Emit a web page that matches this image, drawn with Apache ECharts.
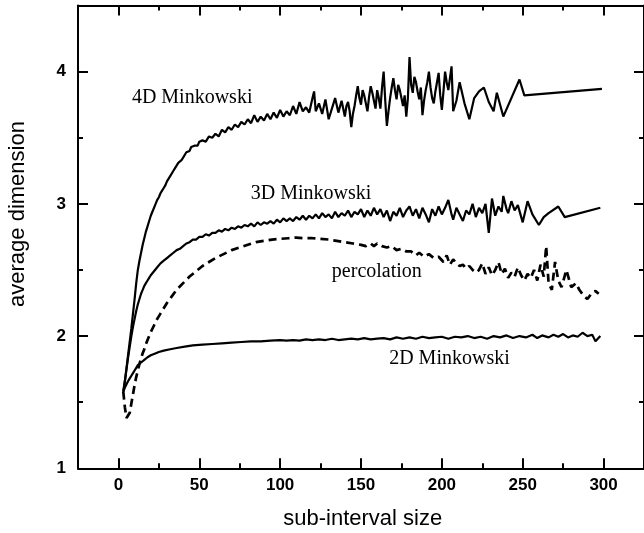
<!DOCTYPE html>
<html>
<head>
<meta charset="utf-8">
<script src="https://cdn.jsdelivr.net/npm/echarts@6/dist/echarts.min.js"></script>
<style>
  html, body { margin: 0; padding: 0; background: #fff; }
  #chart { width: 644px; height: 533px; }
</style>
</head>
<body>
<div id="chart"></div>
<script>
// Tick positions
const xMajorTicks = [0, 50, 100, 150, 200, 250, 300];
const xMinorTicks = [25, 75, 125, 175, 225, 275];
const yMajorTicks = [1, 2, 3, 4];
const yMinorTicks = [1.5, 2.5, 3.5];

// 4D Minkowski
const x4D = [3,4,5,6,7,8,9,10,11,12,13,14,15,16,17,18,19,20,21,22,23,24,25,26,27,28,29,30,
  31,32,33,34,35,36,37,38,39,40,41,42,43,44,45,46,47,48,49,50,
  52,54,56,58,60,62,64,66,68,70,72,74,76,78,80,82,84,86,88,90,92,94,96,98,100,
  102,104,106,108,110,112,114,116,118,120,121,122,124,126,128,130,132,134,136,138,
  140,141,142,143,144,145,146,147,148,149,150,151,152,153,154,155,156,157,158,159,
  160,161,162,163,164,165,166,167,168,169,170,171,172,173,174,175,176,177,178,179,
  180,181,182,183,184,185,186,187,188,189,190,191,192,193,194,195,196,197,198,199,
  200,201,202,203,204,205,206,207,208,209,210,211,
  214,217,220,223,226,229,232,234,238,248,251,299];
const y4D = [1.58,1.66,1.76,1.86,1.96,2.06,2.17,2.28,2.40,2.50,2.57,2.63,2.69,2.74,2.79,2.83,2.87,2.91,2.94,2.97,3.00,3.03,3.05,3.08,3.10,3.12,3.14,3.17,
  3.18,3.21,3.22,3.25,3.27,3.28,3.31,3.30,3.33,3.35,3.36,3.39,3.40,3.40,3.43,3.42,3.44,3.45,3.44,3.47,
  3.48,3.47,3.51,3.50,3.53,3.51,3.56,3.54,3.58,3.56,3.60,3.58,3.62,3.60,3.64,3.61,3.67,3.62,3.66,3.63,3.68,3.64,3.69,3.65,3.71,
  3.66,3.70,3.67,3.74,3.68,3.77,3.70,3.73,3.69,3.80,3.85,3.70,3.76,3.68,3.79,3.64,3.72,3.80,3.69,3.78,
  3.66,3.74,3.77,3.70,3.58,3.68,3.74,3.82,3.89,3.80,3.75,3.86,3.82,3.76,3.70,3.81,3.89,3.84,3.78,3.72,
  3.86,3.80,3.72,3.88,4.00,3.78,3.59,3.70,3.80,3.88,3.95,3.86,3.79,3.90,3.86,3.80,3.74,3.82,3.66,3.80,
  4.11,3.90,3.84,3.96,3.92,3.85,3.79,3.88,3.67,3.78,3.86,3.92,4.00,3.88,3.80,3.76,3.85,3.92,3.99,3.82,
  3.71,3.85,4.00,3.92,3.86,3.95,4.04,3.70,3.74,3.78,3.85,3.92,
  3.76,3.64,3.80,3.85,3.88,3.77,3.70,3.84,3.66,3.94,3.82,3.87];

// 3D Minkowski
const x3D = [3,4,5,6,7,8,9,10,11,12,13,14,15,16,17,18,19,20,21,22,23,24,25,26,27,28,29,30,
  32,34,36,38,40,42,44,46,48,50,52,54,56,58,60,62,64,66,68,70,72,74,76,78,80,82,84,86,88,90,
  92,94,96,98,100,102,104,106,108,110,112,114,116,118,120,122,124,126,128,130,132,134,136,138,140,
  142,144,146,148,150,152,154,156,158,160,162,164,166,168,170,172,174,176,178,180,182,184,186,188,190,
  192,194,196,198,200,202,204,206,207,209,211,213,215,217,219,221,223,225,227,229,231,233,235,237,238,
  240,241,243,245,247,250,253,256,260,263,266,272,276,298];
const y3D = [1.58,1.66,1.75,1.84,1.92,2.00,2.07,2.13,2.19,2.24,2.28,2.32,2.35,2.38,2.40,2.42,2.44,2.46,2.47,2.49,2.50,2.52,2.53,2.55,2.56,2.57,2.58,2.59,
  2.61,2.63,2.65,2.66,2.68,2.70,2.71,2.73,2.73,2.75,2.75,2.77,2.76,2.78,2.78,2.80,2.79,2.81,2.80,2.82,2.81,2.83,2.82,2.84,2.83,2.85,2.83,2.86,2.84,2.86,
  2.85,2.87,2.85,2.88,2.86,2.89,2.87,2.89,2.87,2.90,2.88,2.91,2.88,2.91,2.89,2.92,2.89,2.93,2.90,2.92,2.89,2.94,2.90,2.93,2.91,
  2.95,2.90,2.94,2.92,2.96,2.90,2.95,2.91,2.97,2.92,2.96,2.90,2.95,2.87,2.94,2.91,2.97,2.90,2.95,2.98,2.91,2.96,2.89,2.97,2.92,
  2.86,2.96,2.91,2.98,2.92,2.97,3.03,2.92,2.88,2.97,2.92,2.87,2.95,2.92,3.00,2.90,2.97,2.93,3.00,2.78,3.04,2.91,2.98,2.94,3.06,
  2.96,2.93,3.02,2.95,2.99,2.86,3.02,2.92,2.84,2.90,2.93,2.98,2.90,2.97];

// Percolation
const xPerc = [3,4,5,6,7,8,9,10,11,12,13,14,15,16,17,18,19,20,22,24,26,28,30,33,36,40,44,48,52,56,60,65,70,75,80,85,90,95,100,
  105,110,115,120,125,130,135,140,145,150,153,156,158,160,163,166,169,172,175,178,181,184,186,189,192,195,198,
  201,203,205,207,209,211,213,215,217,219,221,223,225,227,229,231,233,235,237,239,241,243,245,247,249,251,253,255,
  257,259,261,263,264.5,266,268,270,272,274,277,280,283,285,288,290,293,295,297];
const yPerc = [1.58,1.46,1.38,1.37,1.42,1.49,1.56,1.63,1.69,1.74,1.79,1.83,1.87,1.90,1.94,1.97,2.00,2.03,2.08,2.13,2.17,2.21,2.25,2.30,2.35,2.40,2.45,2.49,2.53,2.56,2.59,2.62,2.65,2.67,2.69,2.71,2.72,2.73,2.735,
  2.74,2.745,2.74,2.74,2.735,2.73,2.72,2.71,2.70,2.69,2.68,2.70,2.68,2.70,2.68,2.67,2.68,2.65,2.66,2.64,2.64,2.61,2.63,2.60,2.62,2.59,2.60,
  2.56,2.61,2.54,2.58,2.55,2.53,2.54,2.51,2.53,2.50,2.48,2.50,2.55,2.47,2.52,2.46,2.50,2.56,2.47,2.51,2.44,2.48,2.45,2.52,2.46,2.42,2.47,2.44,
  2.50,2.42,2.54,2.45,2.68,2.40,2.35,2.56,2.42,2.37,2.50,2.37,2.40,2.35,2.30,2.28,2.33,2.34,2.32];

// 2D Minkowski
const x2D = [3,4,5,6,7,8,9,10,11,12,13,14,15,16,18,20,22,25,28,32,36,41,46,52,58,64,70,76,82,88,94,
  100,104,108,112,116,120,124,128,132,136,140,144,148,152,156,160,164,168,172,176,180,184,188,192,196,200,
  204,208,212,216,220,224,228,232,236,240,244,248,252,256,259,262,266,269,272,275,278,281,284,287,290,293,295,298];
const y2D = [1.58,1.61,1.635,1.66,1.68,1.70,1.72,1.74,1.76,1.78,1.79,1.80,1.81,1.82,1.84,1.855,1.865,1.88,1.89,1.90,1.91,1.92,1.93,1.935,1.94,1.945,1.95,1.955,1.96,1.96,1.965,
  1.97,1.965,1.97,1.965,1.975,1.97,1.975,1.97,1.98,1.97,1.975,1.98,1.975,1.985,1.975,1.98,1.985,1.975,1.99,1.98,1.99,1.98,1.995,1.985,1.99,1.995,
  1.98,1.995,1.99,2.00,1.985,1.995,1.98,2.00,1.99,2.005,1.985,2.00,1.99,2.01,1.985,2.005,1.99,2.01,1.995,2.015,1.99,2.005,1.995,2.025,2.00,2.01,1.96,2.00];

// Curve captions: text and the data point each one is centred on
const captionText = ['4D Minkowski', '3D Minkowski', 'percolation', '2D Minkowski'];
const captionX = [45.6, 119.1, 159.8, 204.7];
const captionY = [3.80, 3.076, 2.488, 1.826];

const pairs = (xs, ys) => xs.map((x, i) => [x, ys[i]]);

const BLACK = '#000';
const sansFont = "'Liberation Sans', Arial, Helvetica, sans-serif";
const serifFont = "'Liberation Serif', 'Times New Roman', serif";

const tickLabel = {
  color: BLACK, fontFamily: sansFont, fontWeight: 'bold', fontSize: 17
};

function xAxisDef(position, ticks, len, withLine, withLabels) {
  return {
    type: 'value', position: position, min: -25, max: 325, gridIndex: 0,
    axisLine: { show: withLine, onZero: false, lineStyle: { color: BLACK, width: 2 } },
    axisTick: { show: true, inside: true, length: len, customValues: ticks,
      lineStyle: { color: BLACK, width: 2 } },
    axisLabel: withLabels
      ? Object.assign({ show: true, margin: 9, customValues: ticks }, tickLabel)
      : { show: false },
    splitLine: { show: false }, minorTick: { show: false }
  };
}
function yAxisDef(position, ticks, len, withLine, withLabels) {
  return {
    type: 'value', position: position, min: 1, max: 4.5, gridIndex: 0,
    axisLine: { show: withLine, onZero: false, lineStyle: { color: BLACK, width: 2 } },
    axisTick: { show: true, inside: true, length: len, customValues: ticks,
      lineStyle: { color: BLACK, width: 2 } },
    axisLabel: withLabels
      ? Object.assign({ show: true, margin: 12, customValues: ticks }, tickLabel)
      : { show: false },
    splitLine: { show: false }, minorTick: { show: false }
  };
}

function lineSeries(name, data, dashed) {
  return {
    name: name, type: 'line', xAxisIndex: 0, yAxisIndex: 0,
    data: data, showSymbol: false, symbol: 'none', smooth: false,
    lineStyle: dashed
      ? { color: BLACK, width: 2.7, type: [8, 5] }
      : { color: BLACK, width: 2.2 },
    emphasis: { disabled: true }, z: 3
  };
}

const chart = echarts.init(document.getElementById('chart'), null, { renderer: 'canvas' });

const grid = { left: 78, top: 5.5, width: 569.5, height: 462.8 };

chart.setOption({
  animation: false,
  backgroundColor: '#fff',
  grid: grid,
  xAxis: [
    xAxisDef('bottom', xMajorTicks, 10, true, true),
    xAxisDef('bottom', xMinorTicks, 5, false, false),
    xAxisDef('top', xMajorTicks, 10, true, false),
    xAxisDef('top', xMinorTicks, 5, false, false)
  ],
  yAxis: [
    yAxisDef('left', yMajorTicks, 10, true, true),
    yAxisDef('left', yMinorTicks, 5, false, false),
    yAxisDef('right', yMajorTicks, 10, true, false),
    yAxisDef('right', yMinorTicks, 5, false, false)
  ],
  series: [
    lineSeries('4D Minkowski', pairs(x4D, y4D), false),
    lineSeries('3D Minkowski', pairs(x3D, y3D), false),
    lineSeries('percolation', pairs(xPerc, yPerc), true),
    lineSeries('2D Minkowski', pairs(x2D, y2D), false)
  ]
});

// Axis titles and curve captions
const graphics = [
  {
    type: 'text', x: grid.left + grid.width / 2, y: 519,
    style: { text: 'sub-interval size', fill: BLACK, font: "22px " + sansFont,
      align: 'center', verticalAlign: 'middle' }
  },
  {
    type: 'text', x: 17.6, y: 214, rotation: Math.PI / 2,
    style: { text: 'average dimension', fill: BLACK, font: "22px " + sansFont,
      align: 'center', verticalAlign: 'middle' }
  }
];
captionText.forEach((t, i) => {
  const p = chart.convertToPixel({ xAxisIndex: 0, yAxisIndex: 0 }, [captionX[i], captionY[i]]);
  graphics.push({
    type: 'text', x: p[0], y: p[1],
    style: { text: t, fill: BLACK, font: "20px " + serifFont,
      align: 'center', verticalAlign: 'middle' }
  });
});
chart.setOption({ graphic: graphics });
</script>
</body>
</html>
